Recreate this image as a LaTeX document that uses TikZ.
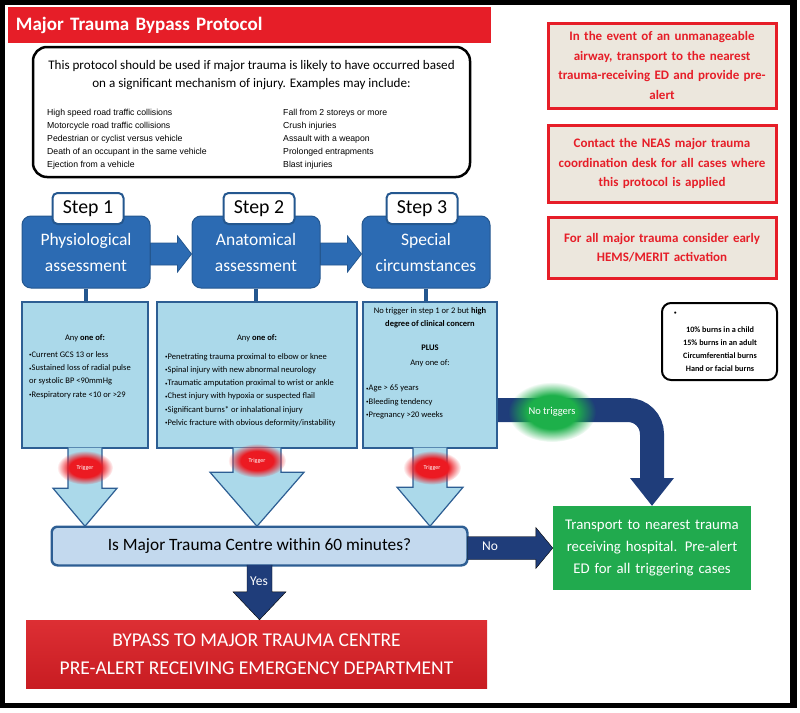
\documentclass[tikz,border=0pt]{standalone}
\usepackage{fontspec}
\setmainfont{Carlito}
\newfontfamily\listfont{Liberation Sans}
\usetikzlibrary{positioning,calc,fadings}

\definecolor{titlered}{HTML}{E61E28}
\definecolor{notefill}{HTML}{ECE7DD}
\definecolor{stepblue}{HTML}{2C6BB3}
\definecolor{stepedge}{HTML}{24578F}
\definecolor{condfill}{HTML}{ABD9EA}
\definecolor{condedge}{HTML}{2D5E93}
\definecolor{askfill}{HTML}{C3D9EE}
\definecolor{navy}{HTML}{1F3D7A}
\definecolor{bypasstop}{HTML}{DD2F34}
\definecolor{bypassbottom}{HTML}{C81C22}
\definecolor{transgreen}{HTML}{21AA4E}
\definecolor{glowred}{HTML}{EC1A22}
\definecolor{glowgreen}{HTML}{1DB04A}

% fading for the soft glows
\pgfdeclareradialshading{glowshade}{\pgfpointorigin}{color(0bp)=(pgftransparent!0); color(14bp)=(pgftransparent!0); color(25bp)=(pgftransparent!100); color(50bp)=(pgftransparent!100)}
\pgfdeclarefading{glowfade}{\pgfuseshading{glowshade}}

\tikzset{
  titlebar/.style={fill=titlered, minimum width=483pt, minimum height=36pt, text width=467pt, inner xsep=8pt, align=left, text=white, font=\bfseries\fontsize{19}{21}\selectfont},
  introbox/.style={draw, line width=2.5pt, rounded corners=14pt, minimum width=437pt, minimum height=130pt},
  introhead/.style={align=center, inner sep=0pt, font=\fontsize{13.1}{18.5}\selectfont},
  mechlist/.style={align=left, inner sep=0pt, font=\listfont\fontsize{8.7}{13}\selectfont},
  notebox/.style={fill=notefill, draw=titlered, line width=3pt, minimum width=228pt, text width=220pt, align=center, text=titlered, font=\bfseries\fontsize{13}{19.5}\selectfont},
  burnsbox/.style={draw, line width=2pt, rounded corners=9pt, minimum width=115pt, minimum height=77pt},
  burnstext/.style={align=center, inner sep=0pt, font=\bfseries\fontsize{8.2}{13}\selectfont},
  stepbox/.style={fill=stepblue, draw=stepedge, line width=1pt, rounded corners=9pt, minimum width=128pt, minimum height=72pt, align=center, text=white, font=\fontsize{17.5}{26}\selectfont},
  steplabel/.style={fill=white, draw=stepedge, line width=2pt, rounded corners=5pt, minimum width=71pt, minimum height=31pt, inner sep=0pt, font=\fontsize{19.8}{22}\selectfont},
  steparrow/.style={fill=stepblue, draw=stepedge, line width=0.8pt},
  stem/.style={draw=stepedge, line width=3.5pt},
  condbox/.style={fill=condfill, draw=condedge, line width=1.2pt, minimum height=146pt},
  condtext/.style={align=left, inner sep=0pt, font=\fontsize{8.5}{13.2}\selectfont},
  condhead/.style={align=center, inner sep=0pt, font=\fontsize{8.5}{13}\selectfont},
  trigarrow/.style={fill=condfill, draw=condedge, line width=1.2pt},
  trigtext/.style={text=white, inner sep=0pt, font=\fontsize{6}{7}\selectfont},
  glowspot/.style={path fading=glowfade},
  askbox/.style={fill=askfill, draw=condedge, line width=1.5pt, rounded corners=6pt, minimum width=415pt, minimum height=38pt, font=\fontsize{17.3}{19}\selectfont},
  navyarrow/.style={fill=navy},
  arrowlabel/.style={text=white, inner sep=0pt, font=\fontsize{13.5}{15}\selectfont},
  transportbox/.style={fill=transgreen, minimum width=198pt, minimum height=84pt, text width=194pt, inner xsep=2pt, align=center, text=white, font=\fontsize{14.8}{22}\selectfont},
  bypassbox/.style={top color=bypasstop, bottom color=bypassbottom, minimum width=461pt, minimum height=68pt, align=center, text=white, font=\fontsize{19.5}{28}\selectfont}
}

% small raised bullet used in the criteria lists
\newcommand{\dotmark}{{\fontsize{5}{5}\selectfont\raisebox{0.25ex}{\textbullet}}}
% block arrow to the right: from, tip, shaft half, head half, head length, style
\newcommand{\blockright}[6]{%
  \filldraw[#6] ($(#1)+(0,-#3)$) -- ($(#2)+(-#5,-#3)$) -- ($(#2)+(-#5,-#4)$) -- (#2) -- ($(#2)+(-#5,#4)$) -- ($(#2)+(-#5,#3)$) -- ($(#1)+(0,#3)$) -- cycle;}
% block arrow downwards: from, tip, shaft half, head half, head length, style
\newcommand{\blockdown}[6]{%
  \filldraw[#6] ($(#1)+(-#3,-1)$) -- ($(#2)+(-#3,-#5)$) -- ($(#2)+(-#4,-#5)$) -- (#2) -- ($(#2)+(#4,-#5)$) -- ($(#2)+(#3,-#5)$) -- ($(#1)+(#3,-1)$);}

\begin{document}
\begin{tikzpicture}[x=1pt,y=-1pt]
\useasboundingbox (0,0) rectangle (800,712);

% Drawing frame
\draw[line width=5pt] (2.5,2.5) rectangle (792.5,705);
\fill (790,0) rectangle (797,708);

% Drawing title
\node[titlebar] (title) at (249.5,25) {Major Trauma Bypass Protocol};

% Drawing mechanism of injury box
\node[introbox] (intro) at (251.5,112) {};
\node[introhead] (introhead) at (251.5,75) {This protocol should be used if major trauma is likely to have occurred based\\on a significant mechanism of injury. Examples may include:};
\node[mechlist, anchor=west] (mechA) at (47,139) {High speed road traffic collisions\\Motorcycle road traffic collisions\\Pedestrian or cyclist versus vehicle\\Death of an occupant in the same vehicle\\Ejection from a vehicle};
\node[mechlist, anchor=west] (mechB) at (283,139) {Fall from 2 storeys or more\\Crush injuries\\Assault with a weapon\\Prolonged entrapments\\Blast injuries};

% Drawing red notes
\node[notebox, minimum height=85pt] (noteA) at (662,65.5) {In the event of an unmanageable\\airway, transport to the nearest\\trauma-receiving ED and provide pre-\\alert};
\node[notebox, minimum height=77pt] (noteB) at (662,163.5) {Contact the NEAS major trauma\\coordination desk for all cases where\\this protocol is applied};
\node[notebox, minimum height=61pt] (noteC) at (662,247.5) {For all major trauma consider early\\HEMS/MERIT activation};

% Drawing burns footnote
\node[burnsbox] (burns) at (719.5,341.5) {};
\node[burnstext, anchor=west] (burnsmark) at (674,314) {\dotmark};
\node[burnstext] (burnslist) at (720,349) {10\% burns in a child\\15\% burns in an adult\\Circumferential burns\\Hand or facial burns};

% Drawing steps
\node[stepbox] (stepA) at (86,252) {Physiological\\assessment};
\node[stepbox] (stepB) at (256,252) {Anatomical\\assessment};
\node[stepbox] (stepC) at (426,252) {Special\\circumstances};
\coordinate (arrAB) at ($(stepA.east)+(0,2)$);
\coordinate (arrBC) at ($(stepB.east)+(0,2)$);
\blockright{arrAB}{arrAB -| stepB.west}{11}{18}{14}{steparrow}
\blockright{arrBC}{arrBC -| stepC.west}{11}{18}{14}{steparrow}
\node[steplabel] (labA) at (88,208.5) {Step 1};
\node[steplabel] (labB) at (259,208.5) {Step 2};
\node[steplabel] (labC) at (422,208.5) {Step 3};

% Drawing no triggers route
\coordinate (ntstart) at (497,410);
\coordinate (nthead) at (652,478);
\draw[navy, line width=24pt, rounded corners=24pt] (ntstart) -- (ntstart -| nthead) -- (nthead);

% Drawing criteria boxes
\node[condbox, minimum width=126pt] (condA) at (85,375) {};
\node[condbox, minimum width=200pt] (condB) at (257,375) {};
\node[condbox, minimum width=134pt] (condC) at (430,375) {};
\draw[stem] (stepA.south) -- (stepA.south |- condA.north);
\draw[stem] (stepB.south) -- (stepB.south |- condB.north);
\draw[stem] (stepC.south) -- (stepC.south |- condC.north);

\node[condhead] (anyA) at (85,338) {Any \textbf{one of:}};
\node[condtext, anchor=west] (listA) at (29,375) {\dotmark Current GCS 13 or less\\\dotmark Sustained loss of radial pulse\\or systolic BP <90mmHg\\\dotmark Respiratory rate <10 or >29};
\node[condhead] (anyB) at (257,338) {Any \textbf{one of:}};
\node[condtext, anchor=west] (listB) at (165,390) {\dotmark Penetrating trauma proximal to elbow or knee\\\dotmark Spinal injury with new abnormal neurology\\\dotmark Traumatic amputation proximal to wrist or ankle\\\dotmark Chest injury with hypoxia or suspected flail\\\dotmark Significant burns* or inhalational injury\\\dotmark Pelvic fracture with obvious deformity/instability};
\node[condhead] (headC) at (430,318) {No trigger in step 1 or 2 but \textbf{high}\\\textbf{degree of clinical concern}};
\node[condhead, font=\fontsize{8.5}{15}\selectfont] (plusC) at (430,356) {\textbf{PLUS}\\Any one of:};
\node[condtext, anchor=west] (listC) at (366,402) {\dotmark Age > 65 years\\\dotmark Bleeding tendency\\\dotmark Pregnancy >20 weeks};

% Drawing decision box and outcomes
\node[askbox] (ask) at (259.5,546) {Is Major Trauma Centre within 60 minutes?};
\node[transportbox] (transport) at (652,548) {Transport to nearest trauma\\receiving hospital. Pre-alert\\ED for all triggering cases};
\node[bypassbox] (bypass) at (256.5,654) {BYPASS TO MAJOR TRAUMA CENTRE\\PRE-ALERT RECEIVING EMERGENCY DEPARTMENT};
\fill[navy] ($(nthead)+(-22,0)$) -- (nthead -| transport.north) -- ($(nthead)+(22,0)$) -- (transport.north) -- cycle;

% Drawing trigger arrows
\coordinate (tipA) at (condA.south |- ask.north);
\coordinate (tipB) at (condB.south |- ask.north);
\coordinate (tipC) at (condC.south |- ask.north);
\blockdown{condA.south}{tipA}{17}{32}{38}{trigarrow}
\blockdown{condB.south}{tipB}{24}{47}{54}{trigarrow}
\blockdown{condC.south}{tipC}{17}{33}{39}{trigarrow}
\draw[askbox, fill=none] (ask.north west) rectangle (ask.south east);

% Marking triggers
\coordinate (trigApos) at ($(condA.south)+(0,19)$);
\coordinate (trigBpos) at ($(condB.south)+(0,12)$);
\coordinate (trigCpos) at ($(condC.south)+(2,19)$);
\fill[glowred, glowspot] (trigApos) ellipse (28 and 17);
\fill[glowred, glowspot] (trigBpos) ellipse (29 and 17);
\fill[glowred, glowspot] (trigCpos) ellipse (29 and 17);
\node[trigtext] (trigA) at (trigApos) {Trigger};
\node[trigtext] (trigB) at (trigBpos) {Trigger};
\node[trigtext] (trigC) at (trigCpos) {Trigger};

% Drawing yes and no arrows
\coordinate (noend) at ($(ask.east)+(0,2)$);
\blockright{noend}{noend -| transport.west}{11.5}{20.5}{17}{navyarrow}
\node[arrowlabel] (nolabel) at (490,546) {No};
\coordinate (yestip) at (ask.south |- bypass.north);
\blockdown{ask.south}{yestip}{12.5}{26.5}{28}{navyarrow}
\node[arrowlabel] (yeslabel) at (259,581) {Yes};

% Marking no triggers
\coordinate (ntpos) at (552,412);
\fill[glowgreen, glowspot] (ntpos) ellipse (44 and 30);
\node[arrowlabel, font=\fontsize{10.5}{12}\selectfont] (ntlabel) at (ntpos) {No triggers};
\end{tikzpicture}
\end{document}
